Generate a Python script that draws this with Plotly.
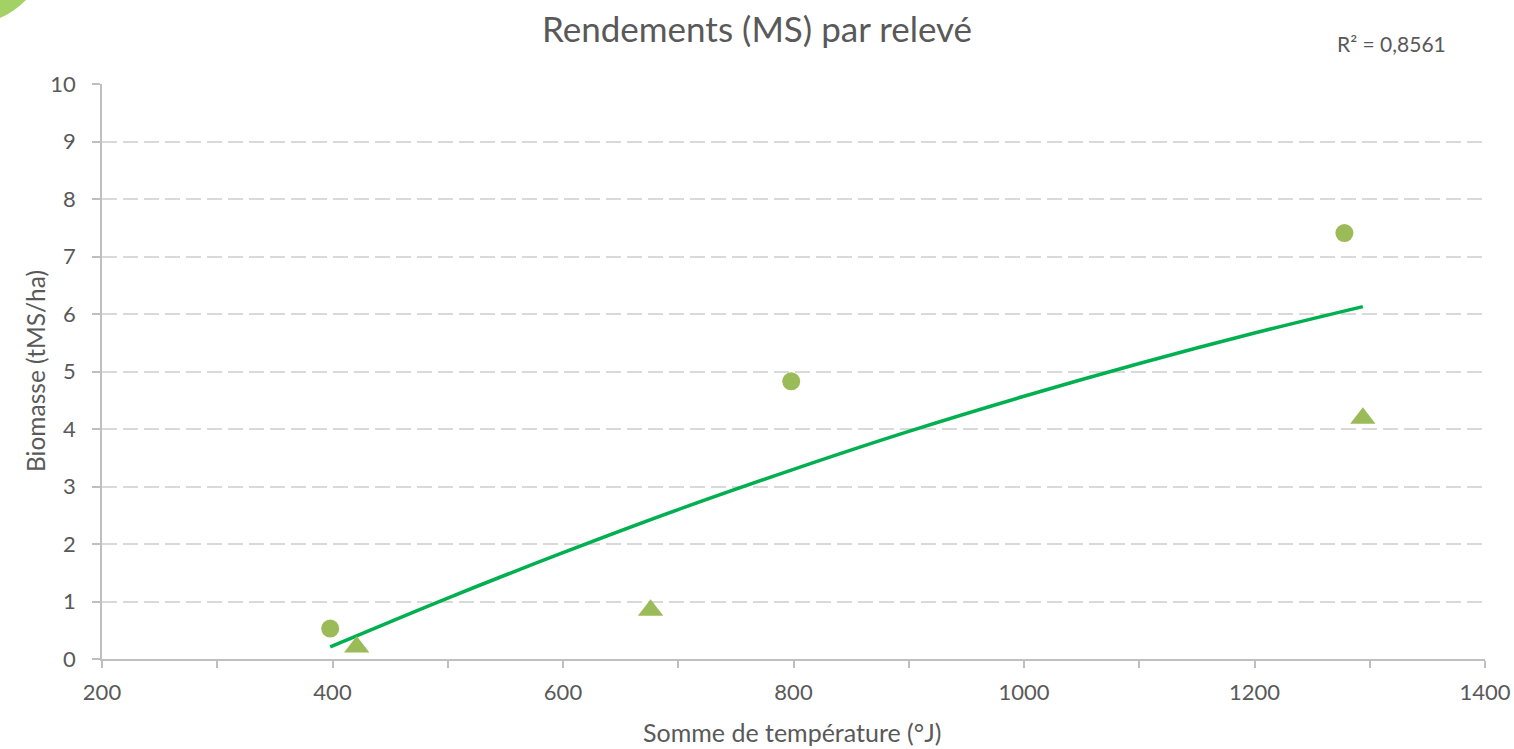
import plotly.graph_objects as go

# Data
circle_x = [398, 798, 1278]
circle_y = [0.53, 4.83, 7.41]
tri_x = [421, 676, 1294]
tri_y = [0.21, 0.85, 4.19]
# trend curve
trend_x = [398, 500, 600, 700, 800, 900, 1000, 1100, 1200, 1294]
trend_y = [0.21, 1.06, 1.85, 2.60, 3.30, 3.96, 4.57, 5.14, 5.67, 6.13]
r2_label = "R² = 0,8561"
x_ticks = [200, 400, 600, 800, 1000, 1200, 1400]
y_ticks = list(range(0, 11))

font = "Lato, 'Open Sans', sans-serif"
txt = "#595959"
W, H = 1514, 749
L, R, T, B = 102, 29, 84, 90
pw, ph = W - L - R, H - T - B


def px_x(px):
    return (px - L) / pw


def px_y(py):
    return 1 + (T - py) / ph


fig = go.Figure()
fig.add_trace(go.Scatter(x=trend_x, y=trend_y, mode="lines",
                         line=dict(color="#00B050", width=3.5, shape="spline"),
                         showlegend=False, hoverinfo="skip"))
fig.add_trace(go.Scatter(x=circle_x, y=circle_y, mode="markers",
                         marker=dict(symbol="circle", size=18, color="#9BBB59"),
                         showlegend=False))
fig.add_trace(go.Scatter(x=tri_x, y=tri_y, mode="markers",
                         marker=dict(symbol="triangle-up", size=22, color="#9BBB59"),
                         showlegend=False))

fig.update_layout(
    width=W, height=H,
    margin=dict(l=L, r=R, t=T, b=B),
    paper_bgcolor="white", plot_bgcolor="white",
    font=dict(family=font, color=txt, size=21),
    title=dict(text="Rendements (MS) par relevé", x=0.5, xanchor="center",
               y=1 - 30 / H, yanchor="middle", font=dict(size=35, color=txt, family=font)),
    annotations=[
        dict(text=r2_label, x=px_x(1448), xref="paper", y=px_y(44), yref="paper",
             showarrow=False, xanchor="right", yanchor="middle",
             font=dict(size=21, color=txt, family=font)),
        dict(text="Somme de température (°J)", x=px_x(792), xref="paper", y=px_y(732),
             yref="paper", showarrow=False, xanchor="center", yanchor="middle",
             font=dict(size=25, color=txt, family=font)),
        dict(text="Biomasse (tMS/ha)", x=px_x(35), xref="paper", y=px_y(371),
             yref="paper", showarrow=False, xanchor="center", yanchor="middle",
             textangle=-90, font=dict(size=24.5, color=txt, family=font)),
    ],
)

fig.update_xaxes(range=[200, 1400], tickvals=x_ticks, showgrid=False, automargin=False,
                 showline=True, linecolor="#BFBFBF", linewidth=1.5,
                 ticks="outside", ticklen=7, tickcolor="#BFBFBF", tickwidth=1.5,
                 ticklabelstandoff=6,
                 minor=dict(dtick=100, ticks="outside", ticklen=7, tickcolor="#BFBFBF",
                            showgrid=False),
                 tickfont=dict(size=22, color=txt), zeroline=False)
fig.update_yaxes(range=[0, 10.003], tickvals=y_ticks, showgrid=True, gridcolor="#D9D9D9",
                 griddash="15px,6px", gridwidth=1.6, automargin=False,
                 showline=True, linecolor="#BFBFBF", linewidth=1.5,
                 ticks="outside", ticklen=8, tickcolor="#BFBFBF", tickwidth=1.5,
                 ticklabelstandoff=12,
                 tickfont=dict(size=22, color=txt), zeroline=False)

# decorative green wedge in the top-left corner
x0, x1 = px_x(0), px_x(26)
y0, y1 = px_y(0), px_y(18)
fig.add_shape(type="path", xref="paper", yref="paper",
              path=f"M {x0},{y0} L {x1},{y0} Q {px_x(14)},{px_y(12)} {x0},{y1} Z",
              fillcolor="#8DC63F", opacity=0.8, line=dict(width=0), layer="above")

fig.write_html("out.html", config={"displayModeBar": False},
               post_script="document.body.style.margin='0';document.body.style.overflow='hidden';")
